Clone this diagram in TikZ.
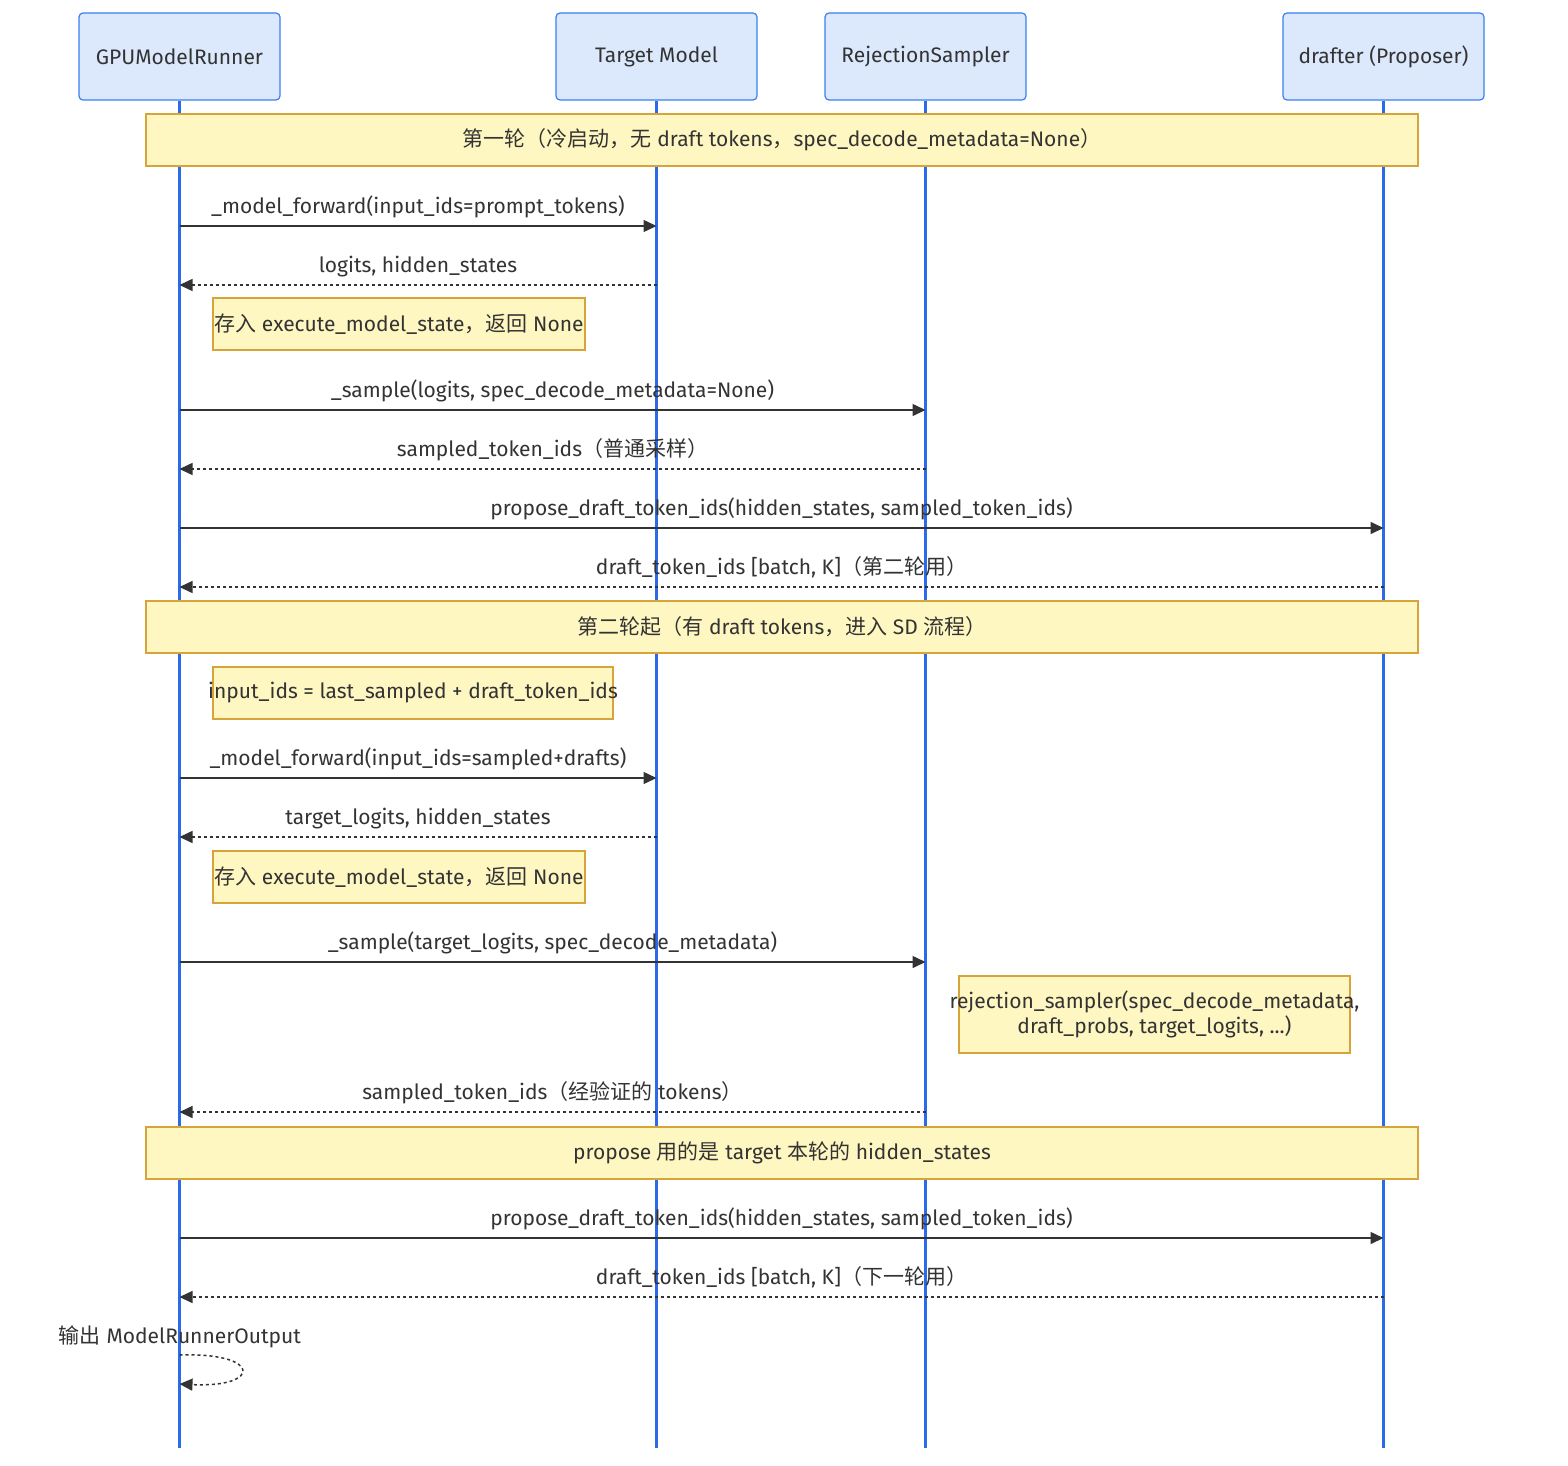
\documentclass[tikz,border=0pt]{standalone}
\usepackage{fontspec}
\setmainfont{Fira Sans}
\newfontfamily\cjkfont{Noto Sans CJK SC}
\newcommand{\zh}[1]{{\cjkfont #1}}
\usetikzlibrary{arrows.meta}
\definecolor{actorfill}{HTML}{DCE9FD}
\definecolor{actorline}{HTML}{3B7FF0}
\definecolor{lifecol}{HTML}{2B6BEA}
\definecolor{notefill}{HTML}{FFF7C2}
\definecolor{noteline}{HTML}{D6A43A}
\definecolor{inkcol}{HTML}{333333}
\begin{document}
\begin{tikzpicture}[x=1pt,y=-1pt,font=\fontsize{21}{25}\selectfont,text=inkcol,
    actor/.style={draw=actorline,fill=actorfill,rounded corners=4pt,line width=1.2pt,
      minimum width=201pt,minimum height=87pt},
    life/.style={draw=lifecol,line width=2.2pt},
    note/.style={draw=noteline,fill=notefill,line width=1.2pt,inner xsep=-30pt,
      minimum height=52pt},
    msglabel/.style={above=4pt,text height=16pt,text depth=4pt},
    call/.style={draw=inkcol,line width=1.5pt,-{Triangle[length=13pt,width=12pt]}},
    reply/.style={call,dash pattern=on 3pt off 3pt}]
  \fill[white] (0,0) rectangle (1568,1466);
  \useasboundingbox (0,0) rectangle (1568,1466);
  % participants
  \node[actor] (gpu) at (179.5,56.5) {GPUModelRunner};
  \node[actor] (tgt) at (656.5,56.5) {Target Model};
  \node[actor] (rej) at (925.5,56.5) {RejectionSampler};
  \node[actor] (dft) at (1383.5,56.5) {drafter (Proposer)};
  \coordinate (bottom) at (0,1448);
  \foreach \who in {gpu,tgt,rej,dft}
    \draw[life] (\who.south) -- (\who.south |- bottom);

  % first round
  \node[note,minimum width=1272pt] (round1) at (782,140)
    {\zh{第一轮（冷启动，无} draft tokens\zh{，}spec\_decode\_metadata=None\zh{）}};
  \coordinate (m1) at (0,226);
  \coordinate (m2) at (0,285);
  \coordinate (m3) at (0,410);
  \coordinate (m4) at (0,469);
  \coordinate (m5) at (0,528);
  \coordinate (m6) at (0,587);
  \draw[call] (gpu |- m1) -- node[msglabel] {\_model\_forward(input\_ids=prompt\_tokens)} (tgt |- m1);
  \draw[reply] (tgt |- m2) -- node[msglabel] {logits, hidden\_states} (gpu |- m2);
  \node[note,minimum width=372pt] (store1) at (399,324)
    {\zh{存入} execute\_model\_state\zh{，返回} None};
  \draw[call] (gpu |- m3) -- node[msglabel] {\_sample(logits, spec\_decode\_metadata=None)} (rej |- m3);
  \draw[reply] (rej |- m4) -- node[msglabel] {sampled\_token\_ids\zh{（普通采样）}} (gpu |- m4);
  \draw[call] (gpu |- m5) -- node[msglabel] {propose\_draft\_token\_ids(hidden\_states, sampled\_token\_ids)} (dft |- m5);
  \draw[reply] (dft |- m6) -- node[msglabel] {draft\_token\_ids [batch, K]\zh{（第二轮用）}} (gpu |- m6);

  % second round on
  \node[note,minimum width=1272pt] (round2) at (782,627)
    {\zh{第二轮起（有} draft tokens\zh{，进入} SD \zh{流程）}};
  \node[note,minimum width=400pt] (inputs) at (413,693)
    {input\_ids = last\_sampled + draft\_token\_ids};
  \coordinate (m7) at (0,778);
  \coordinate (m8) at (0,837);
  \coordinate (m9) at (0,962);
  \coordinate (m10) at (0,1112);
  \draw[call] (gpu |- m7) -- node[msglabel] {\_model\_forward(input\_ids=sampled+drafts)} (tgt |- m7);
  \draw[reply] (tgt |- m8) -- node[msglabel] {target\_logits, hidden\_states} (gpu |- m8);
  \node[note,minimum width=372pt] (store2) at (399,877)
    {\zh{存入} execute\_model\_state\zh{，返回} None};
  \draw[call] (gpu |- m9) -- node[msglabel] {\_sample(target\_logits, spec\_decode\_metadata)} (rej |- m9);
  \node[note,minimum width=391pt,minimum height=77pt,align=center] (verify) at (1154.5,1014.5)
    {rejection\_sampler(spec\_decode\_metadata,\\draft\_probs, target\_logits, ...)};
  \draw[reply] (rej |- m10) -- node[msglabel] {sampled\_token\_ids\zh{（经验证的} tokens\zh{）}} (gpu |- m10);

  \node[note,minimum width=1272pt] (hint) at (782,1153)
    {propose \zh{用的是} target \zh{本轮的} hidden\_states};
  \coordinate (m11) at (0,1238);
  \coordinate (m12) at (0,1297);
  \draw[call] (gpu |- m11) -- node[msglabel] {propose\_draft\_token\_ids(hidden\_states, sampled\_token\_ids)} (dft |- m11);
  \draw[reply] (dft |- m12) -- node[msglabel] {draft\_token\_ids [batch, K]\zh{（下一轮用）}} (gpu |- m12);

  % self call
  \node (output) at (180,1337) {\zh{输出} ModelRunnerOutput};
  \coordinate (loopin) at (179.5,1355);
  \coordinate (loopout) at (179.5,1384);
  \draw[reply] (loopin) .. controls (262,1352) and (262,1388) .. (loopout);
\end{tikzpicture}
\end{document}
